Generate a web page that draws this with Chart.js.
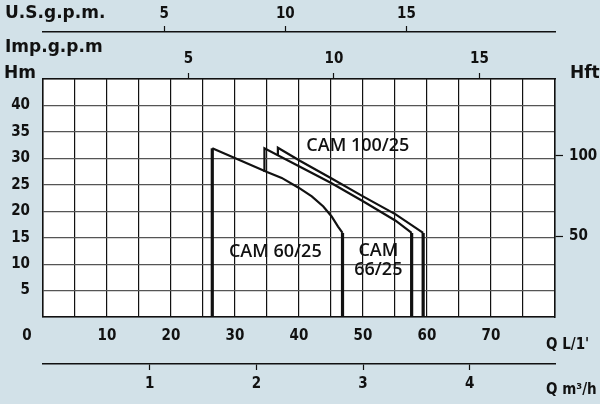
<!DOCTYPE html>
<html lang="en">
<head>
<meta charset="UTF-8">
<title>CAM pump curves</title>
<script src="https://cdn.jsdelivr.net/npm/chart.js@4.4.0/dist/chart.umd.min.js"></script>
<style>
  html, body { margin: 0; padding: 0; background: #d2e1e8; }
</style>
</head>
<body>
<canvas id="pumpChart" width="600" height="404"></canvas>
<script>
// flow Q in L/min, head H in m
const cam60Q = [26.45, 26.45, 35, 37.3, 40, 42, 43.8, 45.1, 46.1, 46.8, 46.8];
const cam60H = [0, 31.9, 27.4, 26.3, 24.4, 22.8, 20.9, 19.0, 17.1, 15.9, 0];
const cam66Q = [34.6, 34.6, 40, 45.1, 50, 55.1, 57.6, 57.6];
const cam66H = [27.4, 31.9, 28.5, 25.3, 21.9, 18.2, 15.9, 0];
const cam100Q = [36.7, 36.7, 40.2, 45.1, 50, 55.1, 59.4, 59.4];
const cam100H = [30.5, 32.0, 29.5, 26.2, 22.8, 19.4, 15.9, 0];

const seriesNames = ['CAM 60/25', 'CAM 66/25', 'CAM 100/25'];
// label anchors in data units (Q, H), one line per entry
const labelQ = [36.3, 52.4, 52.4, 49.2];
const labelH = [12.4, 12.5, 8.9, 32.3];
const labelText = ['CAM 60/25', 'CAM', '66/25', 'CAM 100/25'];

// tick values of the secondary axes
const impTicks = [5, 10, 15];
const usTicks = [5, 10, 15];
const m3Ticks = [1, 2, 3, 4];
const ftTicks = [50, 100];

const Q_MAX = 80, H_MAX = 45;
const IMP = 4.54609, USG = 3.78541, FT = 3.28084;

const tickFont = { family: "'Liberation Sans Narrow', 'DejaVu Sans Condensed', sans-serif", size: 15, weight: 'bold' };
const titleFont = "bold 17px 'DejaVu Sans', sans-serif";
const ink = '#111';

function pts(qs, hs) {
  return qs.map((q, i) => ({ x: q, y: hs[i] }));
}

function curve(name, qs, hs) {
  return {
    label: name,
    data: pts(qs, hs),
    showLine: true,
    borderColor: ink,
    borderWidth: 2.2,
    pointRadius: 0,
    tension: 0,
    borderJoinStyle: 'miter',
    xAxisID: 'x',
    yAxisID: 'y',
    // segments that reach the base are drawn heavier
    segment: {
      borderWidth: c => (c.p0.parsed.y === 0 || c.p1.parsed.y === 0) ? 3.2 : 2.2
    }
  };
}

const fixed = vals => scale => { scale.ticks = vals.map(v => ({ value: v })); };

const plotBg = {
  id: 'plotBg',
  beforeDraw(chart) {
    const a = chart.chartArea, c = chart.ctx;
    c.save();
    c.fillStyle = '#fff';
    c.fillRect(a.left, a.top, a.right - a.left, a.bottom - a.top);
    c.restore();
  }
};

const extraText = {
  id: 'extraText',
  afterDraw(chart) {
    const c = chart.ctx, xs = chart.scales.x, ys = chart.scales.y;
    c.save();
    c.fillStyle = ink;
    c.textBaseline = 'middle';
    // axis names
    c.font = titleFont;
    c.textAlign = 'left';
    c.fillText('U.S.g.p.m.', 5, 14);
    c.fillText('Imp.g.p.m', 5, 48);
    c.fillText('Hm', 4, 74);
    c.fillText('Hft', 570, 74);
    c.font = 'bold 15px ' + tickFont.family;
    c.fillText("Q L/1'", 546, 345);
    c.fillText('Q m\u00b3/h', 546, 390);
    // origin label sits left of the plot
    c.textAlign = 'center';
    c.fillText('0', xs.getPixelForValue(0) - 16, 336);
    // curve names
    c.font = "600 18px 'Open Sans', 'Noto Sans', sans-serif";
    labelText.forEach((t, i) => {
      c.fillText(t, xs.getPixelForValue(labelQ[i]), ys.getPixelForValue(labelH[i]));
    });
    c.restore();
  }
};

new Chart(document.getElementById('pumpChart'), {
  type: 'scatter',
  data: {
    datasets: [
      curve(seriesNames[0], cam60Q, cam60H),
      curve(seriesNames[1], cam66Q, cam66H),
      curve(seriesNames[2], cam100Q, cam100H)
    ]
  },
  options: {
    responsive: false,
    animation: false,
    layout: { padding: 0 },
    plugins: { legend: { display: false }, tooltip: { enabled: false } },
    scales: {
      x: {
        type: 'linear', position: 'bottom', weight: 0, min: 0, max: Q_MAX,
        afterFit: s => { s.height = 47; },
        ticks: {
          stepSize: 5, autoSkip: false, maxRotation: 0, padding: 10,
          color: ink, font: tickFont,
          callback: v => (v % 10 === 0 && v > 0 && v < Q_MAX) ? v : ''
        },
        grid: { color: ink, lineWidth: 1.2, drawTicks: false },
        border: { color: ink, width: 1.5 }
      },
      xm3: {
        type: 'linear', axis: 'x', position: 'bottom', weight: 1, min: 0, max: Q_MAX * 0.06,
        afterFit: s => { s.height = 40; },
        afterBuildTicks: fixed(m3Ticks),
        ticks: { autoSkip: false, maxRotation: 0, padding: 5, color: ink, font: tickFont },
        grid: { drawOnChartArea: false, tickLength: 6, tickColor: ink, tickWidth: 1.2 },
        border: { color: ink, width: 1.5 }
      },
      ximp: {
        type: 'linear', axis: 'x', position: 'top', weight: 0, min: 0, max: Q_MAX / IMP,
        afterFit: s => { s.height = 47; },
        afterBuildTicks: fixed(impTicks),
        ticks: { autoSkip: false, maxRotation: 0, padding: 5, color: ink, font: tickFont },
        grid: { drawOnChartArea: false, tickLength: 6, tickColor: ink, tickWidth: 1.2 },
        border: { color: ink, width: 1.5 }
      },
      xus: {
        type: 'linear', axis: 'x', position: 'top', weight: 1, min: 0, max: Q_MAX / USG,
        afterFit: s => { s.height = 32; },
        afterBuildTicks: fixed(usTicks),
        ticks: { autoSkip: false, maxRotation: 0, padding: 3, color: ink, font: tickFont },
        grid: { drawOnChartArea: false, tickLength: 6, tickColor: ink, tickWidth: 1.2 },
        border: { color: ink, width: 1.5 }
      },
      y: {
        type: 'linear', position: 'left', min: 0, max: H_MAX,
        afterFit: s => { s.width = 43; },
        ticks: {
          stepSize: 5, autoSkip: false, padding: 13, color: ink, font: tickFont,
          callback: v => (v > 0 && v < H_MAX) ? v : ''
        },
        grid: { color: '#555', lineWidth: 1.2, drawTicks: false },
        border: { color: ink, width: 1.5 }
      },
      yft: {
        type: 'linear', axis: 'y', position: 'right', min: 0, max: H_MAX * FT,
        afterFit: s => { s.width = 45; },
        afterBuildTicks: fixed(ftTicks),
        ticks: { autoSkip: false, padding: 6, color: ink, font: tickFont },
        grid: { drawOnChartArea: false, tickLength: 8, tickColor: ink, tickWidth: 1.2 },
        border: { color: ink, width: 1.5 }
      }
    }
  },
  plugins: [plotBg, extraText]
});
</script>
</body>
</html>
